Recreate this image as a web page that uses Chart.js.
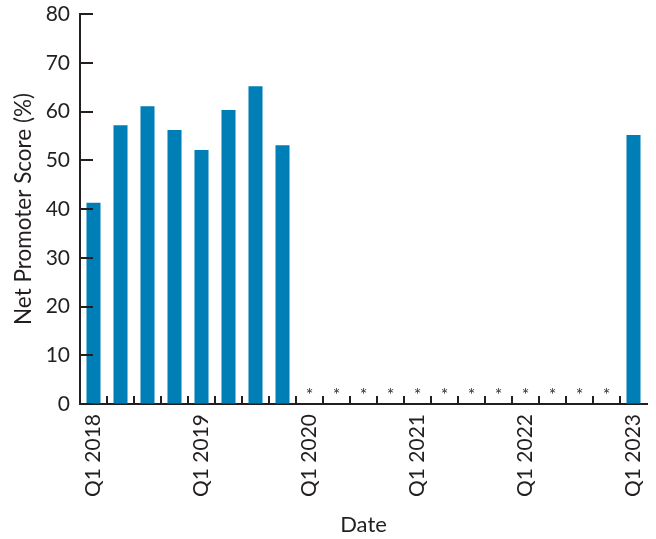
<!DOCTYPE html>
<html>
<head>
<meta charset="utf-8">
<script src="https://cdn.jsdelivr.net/npm/chart.js@4/dist/chart.umd.min.js"></script>
<style>
  html,body{margin:0;padding:0;background:#fff;}
  #wrap{width:656px;height:539px;}
</style>
</head>
<body>
<div id="wrap"><canvas id="npsChart" width="656" height="539"></canvas></div>
<script>
// quarters Q1 2018 .. Q1 2023
const quarters = [
  'Q1 2018','Q2 2018','Q3 2018','Q4 2018',
  'Q1 2019','Q2 2019','Q3 2019','Q4 2019',
  'Q1 2020','Q2 2020','Q3 2020','Q4 2020',
  'Q1 2021','Q2 2021','Q3 2021','Q4 2021',
  'Q1 2022','Q2 2022','Q3 2022','Q4 2022',
  'Q1 2023'
];
// null = no survey (shown with *)
const npsValues = [
  41.3, 57.2, 61.1, 56.2,
  52.1, 60.3, 65.2, 53.1,
  null, null, null, null,
  null, null, null, null,
  null, null, null, null,
  55.2
];
const yTicks = [0,10,20,30,40,50,60,70,80];

const axisColor = '#231f20';
const textColor = '#231f20';
const fontFamily = 'Lato, "Open Sans", sans-serif';

// inward tick marks + asterisks for missing quarters
const extrasPlugin = {
  id:'extras',
  afterDatasetsDraw(chart){
    const ctx = chart.ctx;
    const xs = chart.scales.x, ys = chart.scales.y;
    const area = chart.chartArea;
    ctx.save();
    ctx.strokeStyle = axisColor;
    ctx.lineWidth = 2;
    yTicks.forEach(v=>{
      const py = Math.round(ys.getPixelForValue(v));
      ctx.beginPath();
      ctx.moveTo(area.left, py);
      ctx.lineTo(area.left + 13, py);
      ctx.stroke();
    });
    for(let i=1;i<quarters.length;i++){
      const px = Math.round((xs.getPixelForValue(i-1) + xs.getPixelForValue(i)) / 2);
      ctx.beginPath();
      ctx.moveTo(px, area.bottom);
      ctx.lineTo(px, area.bottom - 8);
      ctx.stroke();
    }
    ctx.fillStyle = '#333';
    ctx.font = '18px ' + fontFamily;
    ctx.textAlign = 'center';
    ctx.textBaseline = 'middle';
    npsValues.forEach((v,i)=>{
      if(v === null){
        ctx.fillText('*', xs.getPixelForValue(i), ys.getPixelForValue(0) - 9);
      }
    });
    ctx.restore();
  }
};

new Chart(document.getElementById('npsChart'), {
  type:'bar',
  data:{
    labels: quarters,
    datasets:[{
      data: npsValues,
      backgroundColor:'#007eb6',
      borderWidth:0,
      categoryPercentage:1,
      barPercentage:0.52
    }]
  },
  options:{
    responsive:false,
    animation:false,
    layout:{padding:{left:0, right:9, top:14, bottom:0}},
    plugins:{legend:{display:false}, tooltip:{enabled:false}},
    scales:{
      x:{
        grid:{drawOnChartArea:false, drawTicks:false},
        border:{display:true, color:axisColor, width:2},
        ticks:{
          autoSkip:false, maxRotation:90, minRotation:90, padding:10,
          color:textColor, font:{family:fontFamily, size:21},
          callback(val, idx){ const l = quarters[idx]; return l.startsWith('Q1') ? l : ''; }
        },
        title:{display:true, text:'Date', color:textColor, font:{family:fontFamily, size:22}, padding:{top:0,bottom:1}},
        afterFit(scale){ scale.height = 135; scale.paddingLeft = 0; scale.paddingRight = 0; }
      },
      y:{
        min:0, max:80,
        grid:{drawOnChartArea:false, drawTicks:false},
        border:{display:true, color:axisColor, width:2},
        ticks:{stepSize:10, padding:10, color:textColor, font:{family:fontFamily, size:21}},
        title:{display:true, text:'Net Promoter Score (%)', color:textColor, font:{family:fontFamily, size:22.5}, padding:{top:10,bottom:0}},
        afterFit(scale){ scale.width = 80; scale.paddingTop = 0; scale.paddingBottom = 0; }
      }
    }
  },
  plugins:[extrasPlugin]
});
</script>
</body>
</html>
